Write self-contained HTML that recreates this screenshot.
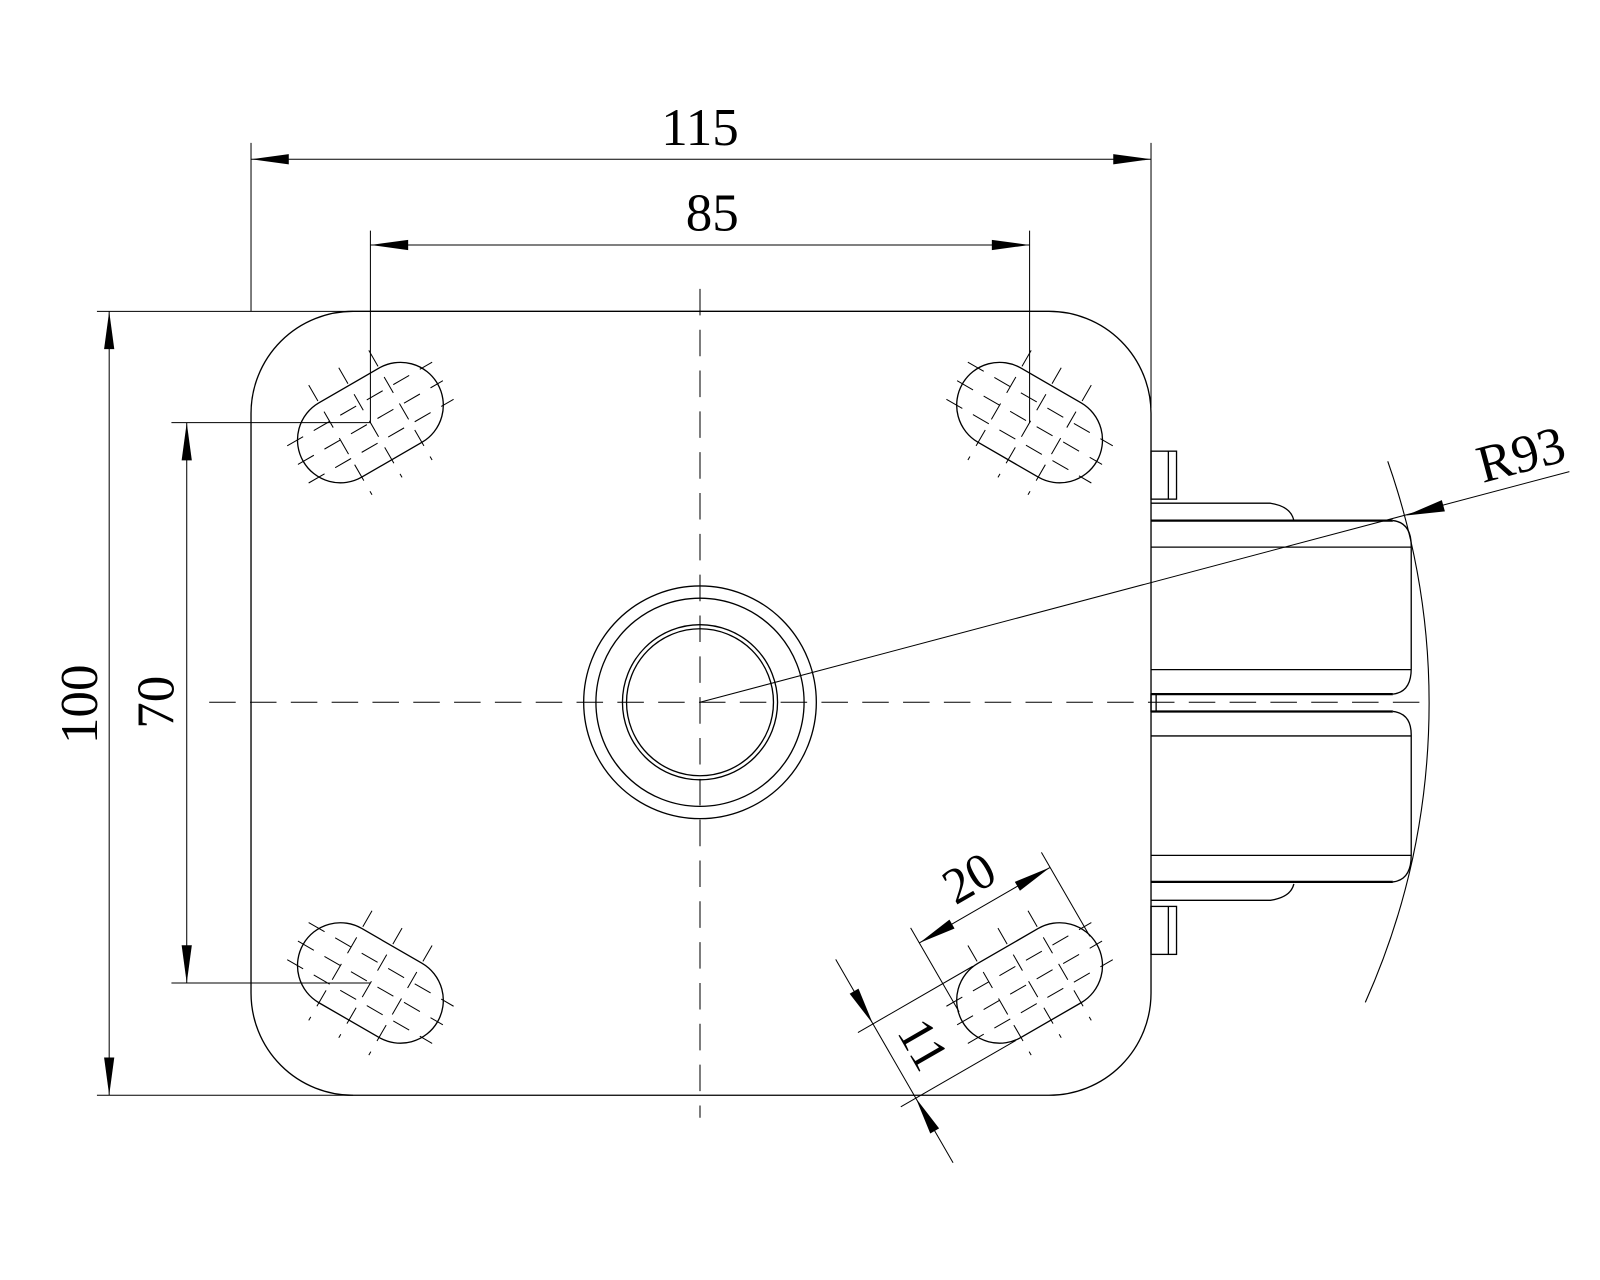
<!DOCTYPE html>
<html><head><meta charset="utf-8"><style>html,body{margin:0;padding:0;background:#fff}svg{display:block}</style></head>
<body>
<svg width="1600" height="1280" viewBox="0 0 1568 1254" preserveAspectRatio="none" xmlns="http://www.w3.org/2000/svg">
<defs>
<g id="slot">
 <path d="M-34,-42 L34,-42 A42,42 0 0 1 34,42 L-34,42 A42,42 0 0 1 -34,-42 Z" fill="none" stroke="#000" stroke-width="1.3"/>
 <g stroke="#000" stroke-width="1" stroke-dasharray="18,12" fill="none">
  <line x1="-82" y1="-21" x2="82" y2="-21"/>
  <line x1="-82" y1="0" x2="82" y2="0"/>
  <line x1="-82" y1="21" x2="82" y2="21"/>
  <line x1="-34" y1="-62" x2="-34" y2="62"/>
  <line x1="0" y1="-62" x2="0" y2="62"/>
  <line x1="34" y1="-62" x2="34" y2="62"/>
 </g>
</g>
</defs>
<g fill="none" stroke="#000" stroke-width="1.3">
 <path d="M346,305 L1028,305 A100,100 0 0 1 1128,405 L1128,973 A100,100 0 0 1 1028,1073 L346,1073 A100,100 0 0 1 246,973 L246,405 A100,100 0 0 1 346,305 Z"/>
 <circle cx="686" cy="688" r="114"/>
 <circle cx="686" cy="688" r="102"/>
 <circle cx="686" cy="688" r="76"/>
 <circle cx="686" cy="688" r="72"/>
 <rect x="1128" y="442" width="25" height="47"/><line x1="1145" y1="442" x2="1145" y2="489"/>
 <rect x="1128" y="888" width="25" height="47"/><line x1="1145" y1="888" x2="1145" y2="935"/>
 <path d="M1128,493 L1245,493 Q1265,496 1268,510"/>
 <path d="M1128,882 L1245,882 Q1265,879 1268,866"/>
 <path d="M1365,510 Q1383,512 1383,535 L1383,655 Q1383,678 1365,680"/>
 <path d="M1365,697 Q1383,699 1383,720 L1383,838 Q1383,862 1365,864"/>
 <line x1="1128" y1="536" x2="1383" y2="536"/>
 <line x1="1128" y1="656" x2="1383" y2="656"/>
 <line x1="1128" y1="721" x2="1383" y2="721"/>
 <line x1="1128" y1="838" x2="1383" y2="838"/>
 <rect x="1128" y="680" width="5" height="17"/>
 <path d="M1360,452 A716,716 0 0 1 1338,982" stroke-width="1.1"/>
</g>
<g stroke="#000" stroke-width="2.2">
 <line x1="1128" y1="510" x2="1365" y2="510"/>
 <line x1="1128" y1="680" x2="1365" y2="680"/>
 <line x1="1128" y1="697" x2="1365" y2="697"/>
 <line x1="1128" y1="864" x2="1365" y2="864"/>
</g>
<g stroke="#000" stroke-width="1" stroke-dasharray="26,14">
 <line x1="205" y1="688" x2="1405" y2="688"/>
 <line x1="686" y1="283" x2="686" y2="1095"/>
</g>
<use href="#slot" transform="translate(363,414) rotate(-30)"/>
<use href="#slot" transform="translate(1009,414) rotate(30)"/>
<use href="#slot" transform="translate(363,963) rotate(30)"/>
<use href="#slot" transform="translate(1009,963) rotate(-30)"/>
<g stroke="#000" stroke-width="1" fill="none">
 <line x1="246" y1="140" x2="246" y2="305"/>
 <line x1="1128" y1="140" x2="1128" y2="400"/>
 <line x1="246" y1="156" x2="1128" y2="156"/>
 <line x1="363" y1="226" x2="363" y2="414"/>
 <line x1="1009" y1="226" x2="1009" y2="414"/>
 <line x1="363" y1="240" x2="1009" y2="240"/>
 <line x1="95" y1="305" x2="346" y2="305"/>
 <line x1="95" y1="1073" x2="346" y2="1073"/>
 <line x1="107" y1="305" x2="107" y2="1073"/>
 <line x1="168" y1="414" x2="363" y2="414"/>
 <line x1="168" y1="963" x2="363" y2="963"/>
 <line x1="183" y1="414" x2="183" y2="963"/>
 <line x1="686" y1="688" x2="1538" y2="462"/>
</g>
<g fill="#000">
 <polygon points="246,156 283,151 283,161"/>
 <polygon points="1128,156 1091,151 1091,161"/>
 <polygon points="363,240 400,235 400,245"/>
 <polygon points="1009,240 972,235 972,245"/>
 <polygon points="107,305 102,342 112,342"/>
 <polygon points="107,1073 102,1036 112,1036"/>
 <polygon points="183,414 178,451 188,451"/>
 <polygon points="183,963 178,926 188,926"/>
 <polygon points="1378,505 1413,490 1416,501"/>
</g>
<g transform="translate(1009,963) rotate(-30)">
 <g stroke="#000" stroke-width="1" fill="none">
  <line x1="-74" y1="-10" x2="-74" y2="-105"/>
  <line x1="74" y1="-10" x2="74" y2="-105"/>
  <line x1="-74" y1="-88" x2="74" y2="-88"/>
  <line x1="-40" y1="-42" x2="-170" y2="-42"/>
  <line x1="-40" y1="42" x2="-170" y2="42"/>
  <line x1="-153" y1="-115" x2="-153" y2="115"/>
 </g>
 <g fill="#000">
  <polygon points="-74,-88 -37,-93 -37,-83"/>
  <polygon points="74,-88 37,-93 37,-83"/>
  <polygon points="-153,-42 -158,-79 -148,-79"/>
  <polygon points="-153,42 -158,79 -148,79"/>
 </g>
 <text x="0" y="-102" font-family="Liberation Serif, serif" font-size="50" text-anchor="middle">20</text>
 <text transform="translate(-137,0) rotate(90)" x="0" y="0" font-family="Liberation Serif, serif" font-size="50" text-anchor="middle">11</text>
</g>
<g font-family="Liberation Serif, serif" font-size="52" fill="#000" text-anchor="middle">
 <text x="686" y="142">115</text>
 <text x="698" y="226">85</text>
 <text transform="translate(95,690) rotate(-90)">100</text>
 <text transform="translate(170,688) rotate(-90)">70</text>
 <text transform="translate(1495,462) rotate(-15)">R93</text>
</g>
</svg>
</body></html>
